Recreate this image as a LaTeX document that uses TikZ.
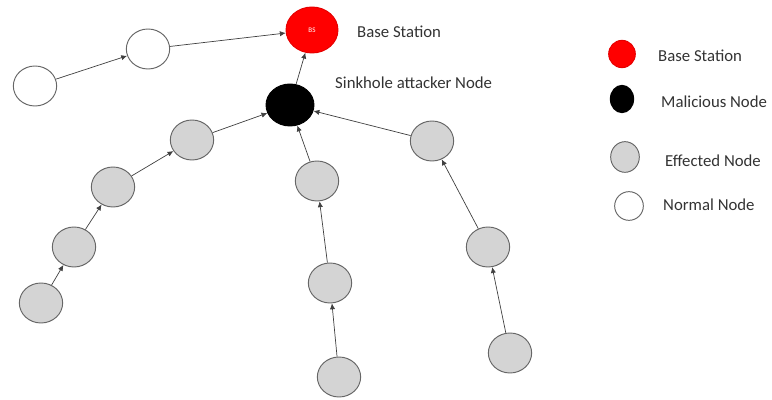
\documentclass[tikz,border=0pt]{standalone}
\usepackage{fontspec}
\setmainfont{Carlito}
\usetikzlibrary{shapes.geometric,arrows.meta}

\tikzset{
  sensor/.style={ellipse, draw=black!60, line width=0.8pt, inner sep=0pt,
    minimum width=1.3cm, minimum height=1.2cm},
  affected/.style={sensor, fill=black!17},
  normal/.style={sensor, fill=white},
  sinkhole/.style={sensor, draw=black, fill=black, minimum width=1.44cm, minimum height=1.26cm},
  station/.style={sensor, draw=red!90!black, fill=red, minimum width=1.56cm, minimum height=1.38cm},
  keynode/.style={minimum width=0.8cm, minimum height=0.82cm},
  link/.style={draw=black!75, line width=0.6pt, -{Latex[length=5pt,width=4.5pt]}},
  label/.style={font=\fontsize{14.3}{16}\selectfont, text=black!80, inner sep=0pt}
}

\begin{document}
\begin{tikzpicture}[x=0.03cm, y=-0.03cm]

\useasboundingbox (0,0) rectangle (772,400);

% Base station and attacker
\node[station] (bs) at (312,30) {\textcolor{white}{\fontsize{6}{7}\selectfont BS}};
\node[sinkhole] (sink) at (290,105) {};

% Normal nodes
\node[normal] (n1) at (35,86) {};
\node[normal] (n2) at (148,49) {};

% Affected nodes
\node[affected] (a1) at (192,140) {};
\node[affected] (a2) at (113,187) {};
\node[affected] (a3) at (74,247) {};
\node[affected] (a4) at (41,303) {};
\node[affected] (a5) at (317,181) {};
\node[affected] (a6) at (330,283) {};
\node[affected] (a7) at (339,377) {};
\node[affected] (a8) at (432,141) {};
\node[affected] (a9) at (488,247) {};
\node[affected] (a10) at (510,353) {};

% Texts
\node[label, anchor=west] (bstext) at (357,32) {Base Station};
\node[label, anchor=west] (sinktext) at (335,83) {Sinkhole attacker Node};

% Routes
\draw[link] (n1) -- (n2);
\draw[link] (n2) -- (bs);
\draw[link] (sink) -- (bs);
\draw[link] (a1) -- (sink);
\draw[link] (a2) -- (a1);
\draw[link] (a3) -- (a2);
\draw[link] (a4) -- (a3);
\draw[link] (a5) -- (sink);
\draw[link] (a6) -- (a5);
\draw[link] (a7) -- (a6);
\draw[link] (a8) -- (sink);
\draw[link] (a9) -- (a8);
\draw[link] (a10) -- (a9);

% Legend
\node[station, keynode] (kbs) at (622,54) {};
\node[sinkhole, keynode, minimum width=0.7cm] (kmal) at (622,99) {};
\node[affected, keynode, minimum width=0.86cm, minimum height=0.92cm] (kaff) at (625,157) {};
\node[normal, keynode, minimum width=0.86cm, minimum height=0.86cm] (knorm) at (629,206) {};
\node[label, anchor=west] (kbstext) at (658,56) {Base Station};
\node[label, anchor=west] (kmaltext) at (661,102) {Malicious Node};
\node[label, anchor=west] (kafftext) at (665,161) {Effected Node};
\node[label, anchor=west] (knormtext) at (663,205) {Normal Node};

\end{tikzpicture}
\end{document}
